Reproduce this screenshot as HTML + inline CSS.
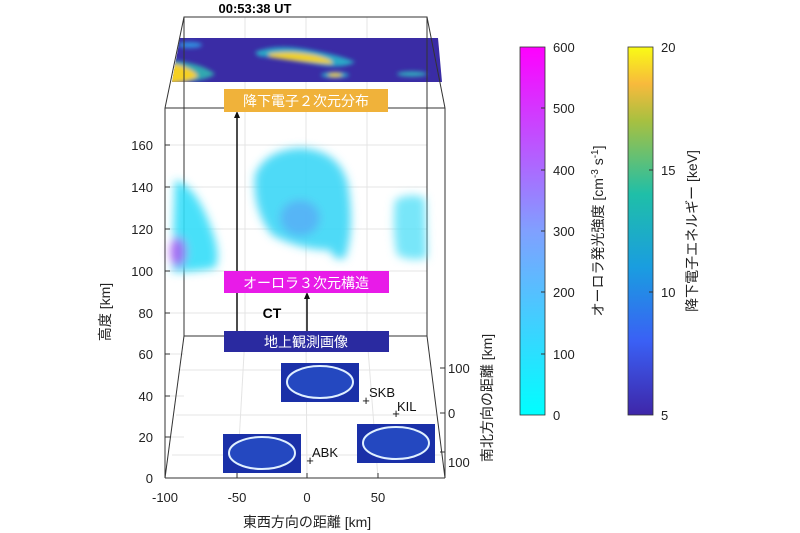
<!DOCTYPE html>
<html><head><meta charset="utf-8"><style>
html,body{margin:0;padding:0;background:#fff}
svg{display:block;font-family:"Liberation Sans","Noto Sans CJK JP",sans-serif}
</style></head><body>
<svg width="800" height="533" viewBox="0 0 800 533" xmlns="http://www.w3.org/2000/svg">
<defs>
<linearGradient id="cb1" x1="0" y1="1" x2="0" y2="0">
<stop offset="0" stop-color="#00ffff"/><stop offset="0.5" stop-color="#80a0ff"/><stop offset="1" stop-color="#ff00ff"/>
</linearGradient>
<linearGradient id="cb2" x1="0" y1="1" x2="0" y2="0">
<stop offset="0" stop-color="#3e26a8"/><stop offset="0.2" stop-color="#3a60f5"/><stop offset="0.4" stop-color="#1a9de0"/><stop offset="0.6" stop-color="#1fbfa8"/><stop offset="0.8" stop-color="#a8c040"/><stop offset="0.9" stop-color="#f8ba3c"/><stop offset="1" stop-color="#f9fb15"/>
</linearGradient>
<filter id="bl3" x="-30%" y="-30%" width="160%" height="160%"><feGaussianBlur stdDeviation="4.5"/></filter>
<filter id="bl2"><feGaussianBlur stdDeviation="2"/></filter>
<clipPath id="bandclip"><polygon points="180,38 438,38 442,82 172,82"/></clipPath>
</defs>
<text x="255" y="13" font-size="13" font-weight="bold" text-anchor="middle">00:53:38 UT</text>
<g stroke="#e4e4e4" stroke-width="1" fill="none">
<line x1="184" y1="145" x2="427" y2="145"/><line x1="184" y1="187" x2="427" y2="187"/><line x1="184" y1="229" x2="427" y2="229"/><line x1="184" y1="271" x2="427" y2="271"/><line x1="184" y1="313" x2="427" y2="313"/>
<line x1="165" y1="145" x2="184" y2="145"/><line x1="165" y1="187" x2="184" y2="187"/><line x1="165" y1="229" x2="184" y2="229"/><line x1="165" y1="271" x2="184" y2="271"/><line x1="165" y1="313" x2="184" y2="313"/><line x1="165" y1="354" x2="184" y2="354"/><line x1="165" y1="396" x2="184" y2="396"/><line x1="165" y1="437" x2="184" y2="437"/>
<line x1="245" y1="17" x2="245" y2="336"/><line x1="306" y1="17" x2="306" y2="336"/><line x1="367" y1="17" x2="367" y2="336"/>
<line x1="245" y1="336" x2="237" y2="478"/><line x1="306" y1="336" x2="307" y2="478"/><line x1="367" y1="336" x2="378" y2="478"/>
<line x1="180" y1="370" x2="432" y2="370"/><line x1="176" y1="415" x2="437" y2="415"/><line x1="172" y1="455" x2="441" y2="455"/>
</g>
<polygon points="180,38 438,38 442,82 172,82" fill="#3a2ca5"/>
<g clip-path="url(#bandclip)">
<g filter="url(#bl2)">
<path d="M255,52 Q275,44 305,49 Q340,55 355,62 Q345,68 325,66 Q290,60 258,56 Z" fill="#2aa8c8"/>
<path d="M268,54 Q290,50 315,55 Q335,60 332,64 Q300,62 270,57 Z" fill="#f0d020"/>
<path d="M165,60 Q200,62 215,74 Q205,82 165,84 Z" fill="#30a8b0"/>
<path d="M165,62 Q190,66 198,76 Q190,82 165,84 Z" fill="#f5d020"/>
<ellipse cx="335" cy="75" rx="14" ry="3" fill="#2aa8c8"/>
<ellipse cx="335" cy="75" rx="7" ry="2" fill="#f0d020"/>
<ellipse cx="412" cy="74" rx="15" ry="2.5" fill="#30b0c0"/>
<ellipse cx="190" cy="45" rx="12" ry="3" fill="#3090e0"/>
</g></g>
<g stroke="#333" stroke-width="1" fill="none">
<polyline points="184,336 184,17 427,17 427,336 184,336"/>
<line x1="184" y1="17" x2="165" y2="108"/><line x1="427" y1="17" x2="445" y2="108"/>
<line x1="165" y1="108" x2="445" y2="108"/>
<line x1="165" y1="108" x2="165" y2="478"/><line x1="445" y1="108" x2="445" y2="478"/>
<line x1="165" y1="478" x2="445" y2="478"/>
<line x1="184" y1="336" x2="165" y2="478"/><line x1="427" y1="336" x2="445" y2="478"/>
</g>
<g filter="url(#bl3)">
<path d="M175,180 Q195,185 210,225 Q222,255 215,268 Q195,272 172,272 Z" fill="#33ddf8" opacity="0.9"/>
<ellipse cx="178" cy="252" rx="8" ry="15" fill="#b050f0" opacity="0.8"/>
<path d="M255,175 Q265,150 300,148 Q340,150 348,185 Q355,230 345,258 Q335,262 330,250 Q300,250 272,235 Q252,210 255,175 Z" fill="#3cd6f6" opacity="0.9"/>
<ellipse cx="300" cy="218" rx="20" ry="18" fill="#5a9cf5" opacity="0.6"/>
<path d="M395,200 Q410,192 425,198 L427,258 Q410,262 397,255 Q392,230 395,200 Z" fill="#55e0f8" opacity="0.8"/>
</g>
<g stroke="#333"><line x1="165" y1="145" x2="170" y2="145"/><line x1="165" y1="187" x2="170" y2="187"/><line x1="165" y1="229" x2="170" y2="229"/><line x1="165" y1="271" x2="170" y2="271"/><line x1="165" y1="313" x2="170" y2="313"/><line x1="165" y1="354" x2="170" y2="354"/><line x1="165" y1="396" x2="170" y2="396"/><line x1="165" y1="437" x2="170" y2="437"/>
<line x1="237" y1="478" x2="237" y2="473"/><line x1="307" y1="478" x2="307" y2="473"/><line x1="378" y1="478" x2="378" y2="473"/>
<line x1="440" y1="368" x2="445" y2="368"/><line x1="440" y1="413" x2="445" y2="413"/><line x1="440" y1="452" x2="445" y2="452"/></g>
<g font-size="13" fill="#222" text-anchor="end">
<text x="153" y="150">160</text><text x="153" y="192">140</text><text x="153" y="234">120</text><text x="153" y="276">100</text><text x="153" y="318">80</text><text x="153" y="359">60</text><text x="153" y="401">40</text><text x="153" y="442">20</text><text x="153" y="483">0</text>
</g>
<g font-size="13" fill="#222" text-anchor="middle">
<text x="165" y="502">-100</text><text x="237" y="502">-50</text><text x="307" y="502">0</text><text x="378" y="502">50</text>
<text x="307" y="527" font-size="14">東西方向の距離 [km]</text>
</g>
<g font-size="13" fill="#222"><text x="448" y="373">100</text><text x="448" y="418">0</text><text x="448" y="467">100</text></g>
<text transform="translate(110,312) rotate(-90)" font-size="14" text-anchor="middle" fill="#222">高度 [km]</text>
<text transform="translate(492,398) rotate(-90)" font-size="14" text-anchor="middle" fill="#222">南北方向の距離 [km]</text>
<g stroke="#111" stroke-width="1.5"><line x1="237" y1="331" x2="237" y2="116"/><line x1="307" y1="331" x2="307" y2="297"/></g>
<polygon points="237,111 234,118 240,118" fill="#111"/><polygon points="307,292 304,299 310,299" fill="#111"/>
<rect x="224" y="89" width="164" height="23" fill="#f0b23a"/>
<text x="306" y="106" font-size="14" fill="#fff" text-anchor="middle">降下電子２次元分布</text>
<rect x="224" y="271" width="165" height="22" fill="#e81be8"/>
<text x="306" y="288" font-size="14" fill="#fff" text-anchor="middle">オーロラ３次元構造</text>
<text x="272" y="318" font-size="14" font-weight="bold" text-anchor="middle">CT</text>
<rect x="224" y="331" width="165" height="21" fill="#2a2aa0"/>
<text x="306" y="347" font-size="14" fill="#fff" text-anchor="middle">地上観測画像</text>
<g>
<rect x="281" y="363" width="78" height="39" fill="#1a30a8"/><ellipse cx="320" cy="382" rx="33" ry="16" fill="#2448c0" stroke="#e0f0ff" stroke-width="2"/>
<rect x="223" y="434" width="78" height="39" fill="#1a30a8"/><ellipse cx="262" cy="453" rx="33" ry="16" fill="#2448c0" stroke="#e0f0ff" stroke-width="2"/>
<rect x="357" y="424" width="78" height="39" fill="#1a30a8"/><ellipse cx="396" cy="443" rx="33" ry="16" fill="#2448c0" stroke="#e0f0ff" stroke-width="2"/>
</g>
<g font-size="13" fill="#111">
<text x="366" y="405" text-anchor="middle">+</text><text x="369" y="397">SKB</text>
<text x="396" y="418" text-anchor="middle">+</text><text x="397" y="411">KIL</text>
<text x="310" y="465" text-anchor="middle">+</text><text x="312" y="457">ABK</text>
</g>
<rect x="520" y="47" width="25" height="368" fill="url(#cb1)" stroke="#333" stroke-width="0.8"/>
<g stroke="#333"><line x1="541" y1="108" x2="545" y2="108"/><line x1="541" y1="170" x2="545" y2="170"/><line x1="541" y1="231" x2="545" y2="231"/><line x1="541" y1="292" x2="545" y2="292"/><line x1="541" y1="354" x2="545" y2="354"/></g>
<g font-size="13" fill="#222"><text x="553" y="52">600</text><text x="553" y="113">500</text><text x="553" y="175">400</text><text x="553" y="236">300</text><text x="553" y="297">200</text><text x="553" y="359">100</text><text x="553" y="420">0</text></g>
<text transform="translate(603,231) rotate(-90)" font-size="14" text-anchor="middle" fill="#222">オーロラ発光強度 [cm<tspan baseline-shift="super" font-size="10">-3</tspan> s<tspan baseline-shift="super" font-size="10">-1</tspan>]</text>
<rect x="628" y="47" width="25" height="368" fill="url(#cb2)" stroke="#333" stroke-width="0.8"/>
<g stroke="#333"><line x1="649" y1="170" x2="653" y2="170"/><line x1="649" y1="292" x2="653" y2="292"/></g>
<g font-size="13" fill="#222"><text x="661" y="52">20</text><text x="661" y="175">15</text><text x="661" y="297">10</text><text x="661" y="420">5</text></g>
<text transform="translate(697,231) rotate(-90)" font-size="14" text-anchor="middle" fill="#222">降下電子エネルギー [keV]</text>
</svg>
</body></html>
